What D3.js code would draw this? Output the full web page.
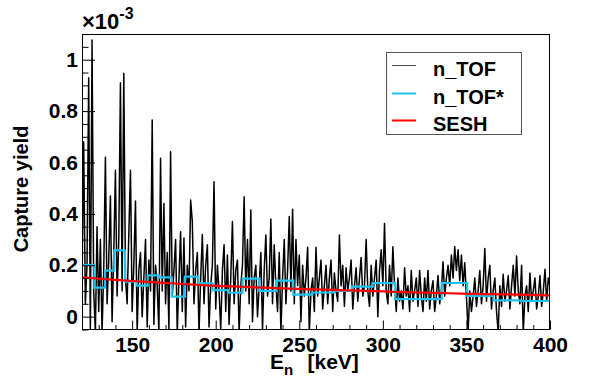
<!DOCTYPE html>
<html><head><meta charset="utf-8">
<script src="https://cdn.jsdelivr.net/npm/d3@7"></script>
<style>
body{margin:0;background:#fff}
svg{display:block}
text{font-family:"Liberation Sans",Arial,Helvetica,sans-serif;font-weight:bold;fill:#000}
</style>
</head><body><svg id="c" width="598" height="382"></svg>
<script>
// ---------- data (yield in units of 1e-3) ----------
const ntofStartKeV = 120;          // first point of the n_TOF series, 1 keV step
const ntofYield = [
 0.12,0.68,0.05,0.20,0.93,-0.06,1.077,0.10,-0.06,0.35,
 0.02,0.30,-0.06,0.18,0.62,0.05,0.22,0.47,-0.02,0.25,
 0.57,0.08,0.30,0.91,0.10,0.947,0.15,0.05,0.32,0.57,
 0.02,0.20,0.45,-0.06,0.18,0.25,0.00,0.15,0.30,-0.04,
 0.22,0.10,0.765,-0.03,0.20,0.12,-0.06,0.616,0.10,0.44,
 0.05,0.25,-0.05,0.642,0.08,0.18,0.30,-0.06,0.15,0.33,
 0.02,0.306,-0.04,0.20,0.10,0.454,0.37,0.05,0.18,0.25,
 -0.06,0.15,0.32,0.05,0.20,0.28,-0.04,0.12,0.20,0.525,
 0.03,0.20,0.10,-0.05,0.18,0.28,0.02,0.24,-0.03,0.15,
 0.37,0.05,0.18,0.22,-0.06,0.12,0.20,0.467,0.10,0.30,
 0.05,0.415,-0.02,0.15,0.20,0.00,0.12,0.25,-0.05,0.18,
 0.318,0.08,0.15,0.38,0.05,0.28,0.12,0.02,0.25,-0.06,
 0.15,0.30,0.05,0.18,0.39,0.10,0.418,0.05,0.30,0.12,
 0.24,-0.02,0.20,0.08,0.15,0.27,-0.06,0.10,0.15,0.02,
 0.27,0.08,0.15,0.22,0.03,0.12,0.20,0.05,0.15,0.22,
 0.02,0.17,0.10,0.06,0.318,0.12,0.20,0.04,0.19,0.10,
 0.15,0.22,0.03,0.12,0.19,0.06,0.15,0.23,0.08,0.12,
 0.30,0.10,0.04,0.20,0.08,0.15,0.22,0.00,0.18,0.26,
 0.12,0.363,0.10,0.05,0.20,0.08,0.272,0.12,0.02,0.15,
 0.06,0.10,0.03,0.19,0.08,0.12,0.02,0.18,0.06,0.10,
 0.15,0.04,0.18,0.08,0.02,0.15,0.06,0.18,0.03,0.10,
 0.14,0.02,0.08,0.16,0.05,0.10,0.214,0.08,0.15,0.20,
 0.12,0.24,0.15,0.272,0.18,0.26,0.14,0.24,0.12,0.21,
 0.08,-0.06,0.10,0.02,0.08,0.15,0.04,0.10,0.18,0.05,
 0.12,0.265,0.06,0.15,0.20,0.03,0.10,0.15,0.02,-0.06,
 0.12,0.04,0.165,0.06,0.10,0.16,0.03,0.12,0.20,0.08,
 0.236,0.10,0.05,0.20,-0.06,0.08,0.12,0.02,0.17,0.06,
 0.10,0.15,0.03,0.08,0.16,0.04,0.10,0.184,0.06,0.15,
 0.12
];
const ntofStarEdges = [120,127.4,133.8,139.3,145.7,152.7,159.3,166.1,173.7,181.6,189.6,198.2,207.4,216.1,226.1,236.1,246.4,257.8,270.4,281.4,293.9,307.3,321,335.2,350.5,366.1,382.7,400];
const ntofStarYield = [0.201,0.113,0.179,0.258,0.136,0.121,0.161,0.153,0.078,0.156,0.130,0.103,0.093,0.148,0.100,0.140,0.086,0.094,0.100,0.117,0.131,0.068,0.068,0.131,0.081,0.063,0.061];
const seshEnergy = [120,140,160,180,200,220,240,260,280,300,320,340,360,380,400];
const seshYield  = [0.153,0.143,0.135,0.127,0.120,0.115,0.110,0.106,0.102,0.098,0.094,0.091,0.088,0.086,0.083];
const xTicks = [150,200,250,300,350,400];
const yTicks = [0,0.2,0.4,0.6,0.8,1];
const yTickLabels = ["0","0.2","0.4","0.6","0.8","1"];
const legendLabels = ["n_TOF","n_TOF*","SESH"];
const legendColors = ["#000000","#1ec3f0","#ff0000"];

// ---------- layout ----------
const svg = d3.select("#c");
const L = 82, R = 550, T = 34, B = 329.5;
const x = d3.scaleLinear().domain([120,400]).range([L,R]);
const y = d3.scaleLinear().domain([-0.05,1.1]).range([B,T]);

svg.append("defs").append("clipPath").attr("id","clip")
  .append("rect").attr("x",L).attr("y",T).attr("width",R-L).attr("height",B-T);

const plot = svg.append("g").attr("clip-path","url(#clip)");

// n_TOF
const ntofPts = ntofYield.map((v,i)=>[ntofStartKeV+i, v]);
plot.append("path").datum(ntofPts)
  .attr("fill","none").attr("stroke","#000").attr("stroke-width",1.5).attr("stroke-linejoin","round")
  .attr("d", d3.line().x(d=>x(d[0])).y(d=>y(d[1])));

// n_TOF* step histogram
const starPts = ntofStarYield.map((v,i)=>[ntofStarEdges[i], v]);
starPts.push([ntofStarEdges[ntofStarEdges.length-1], ntofStarYield[ntofStarYield.length-1]]);
plot.append("path").datum(starPts)
  .attr("fill","none").attr("stroke",legendColors[1]).attr("stroke-width",2.2)
  .attr("d", d3.line().curve(d3.curveStepAfter).x(d=>x(d[0])).y(d=>y(d[1])));

// SESH
plot.append("path").datum(seshEnergy.map((e,i)=>[e,seshYield[i]]))
  .attr("fill","none").attr("stroke",legendColors[2]).attr("stroke-width",2.2)
  .attr("d", d3.line().curve(d3.curveMonotoneX).x(d=>x(d[0])).y(d=>y(d[1])));

// axes
const minorY = d3.range(-1,23).map(k=>k*0.05).filter(v=>Math.abs(v*5-Math.round(v*5))>1e-6);
const minorX = d3.range(12,41).map(k=>k*10).filter(v=>v%50!==0);

function styleAxis(g){
  g.select(".domain").remove();
  g.selectAll("line").attr("stroke","#000").attr("stroke-width",1);
  g.selectAll("text").attr("font-size",21).attr("font-family",'"Liberation Sans",Arial,sans-serif').attr("font-weight","bold");
}
svg.append("g").attr("transform",`translate(${L},0)`)
  .call(d3.axisLeft(y).tickValues(minorY).tickSize(-6.5).tickFormat(""))
  .call(styleAxis);
svg.append("g").attr("transform",`translate(${L},0)`)
  .call(d3.axisLeft(y).tickValues(yTicks).tickSize(-13).tickPadding(4).tickFormat((d,i)=>yTickLabels[i]))
  .call(styleAxis);
svg.append("g").attr("transform",`translate(0,${B})`)
  .call(d3.axisBottom(x).tickValues(minorX).tickSize(-4.5).tickFormat(""))
  .call(styleAxis);
svg.append("g").attr("transform",`translate(0,${B})`)
  .call(d3.axisBottom(x).tickValues(xTicks).tickSize(-9).tickPadding(8).tickFormat(d3.format("d")))
  .call(styleAxis);

// frame
svg.append("rect").attr("x",L+0.5).attr("y",T+0.5).attr("width",R-L-1).attr("height",B-T-0.5)
  .attr("fill","none").attr("stroke","#000").attr("stroke-width",1);

// exponent
const ex = svg.append("text").attr("x",L).attr("y",29).attr("font-size",22);
ex.append("tspan").text("\u00d710");
ex.append("tspan").attr("font-size",16).attr("dy",-10.5).text("-3");

// axis titles
svg.append("text").attr("transform","translate(28,189) rotate(-90)")
  .attr("text-anchor","middle").attr("font-size",20).text("Capture yield");
const xt = svg.append("text").attr("x",270).attr("y",369).attr("font-size",21);
xt.append("tspan").text("E");
xt.append("tspan").attr("font-size",15).attr("dy",6).text("n");
xt.append("tspan").attr("x",307.5).attr("dy",-6).text("[keV]");

// legend
const lg = svg.append("g");
lg.append("rect").attr("x",386.5).attr("y",52.5).attr("width",135).attr("height",82)
  .attr("fill","#fff").attr("stroke","#555").attr("stroke-width",1);
const rowY = [65.5,93.5,120.5];
legendLabels.forEach((lab,i)=>{
  lg.append("line").attr("x1",392).attr("x2",416).attr("y1",rowY[i]).attr("y2",rowY[i])
    .attr("stroke",legendColors[i]).attr("stroke-width",i===0?1:2).attr("opacity",i===0?0.7:1);
  lg.append("text").attr("x",433).attr("y",rowY[i]+10.3).attr("font-size",20).text(lab);
});
</script>
</body></html>
